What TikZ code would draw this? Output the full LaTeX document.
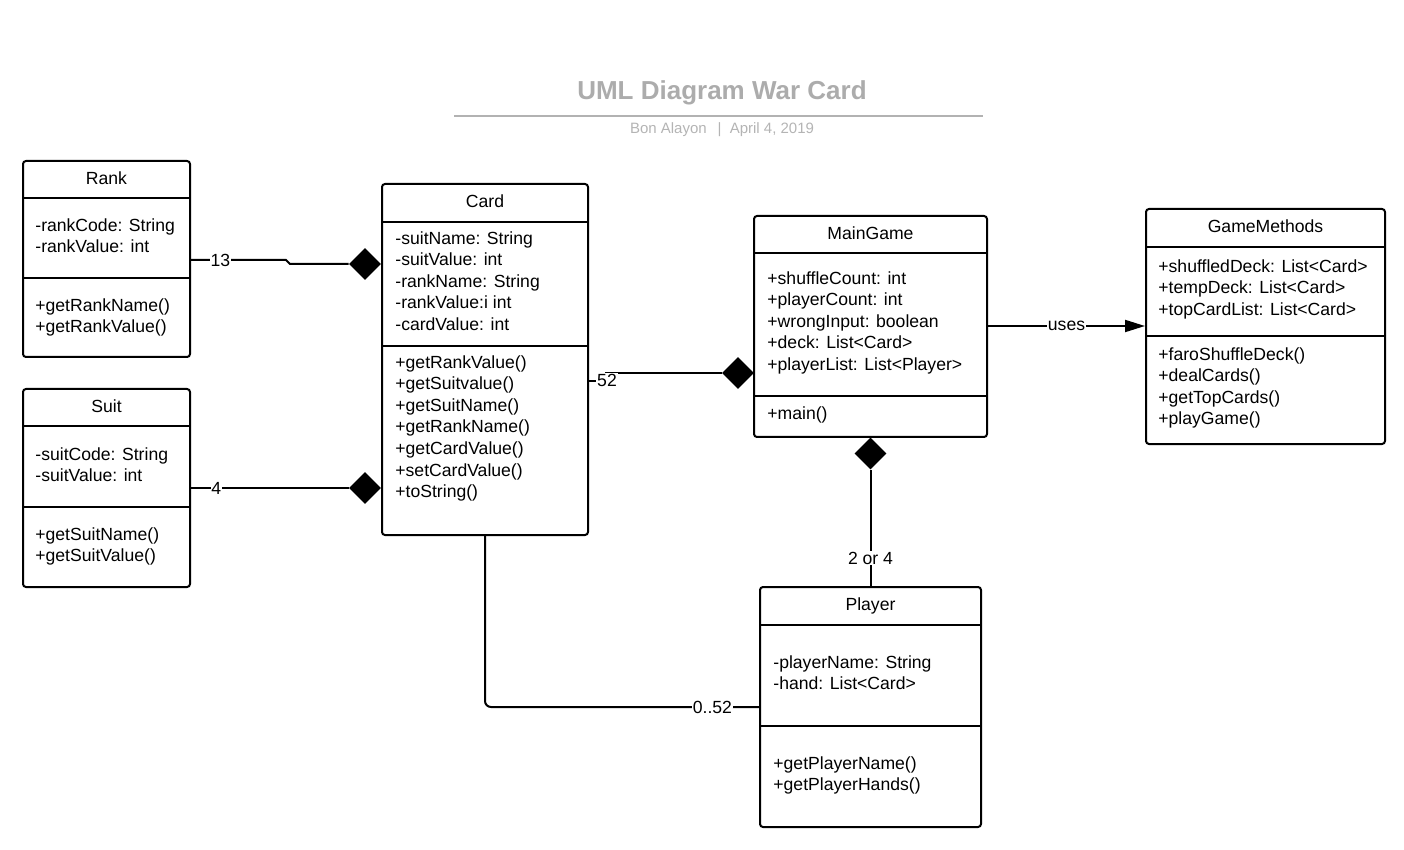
\documentclass[tikz,border=0pt]{standalone}
\usepackage{fontspec}
\setmainfont{Liberation Sans}
\usetikzlibrary{shapes.geometric,arrows.meta}
\definecolor{titlegray}{RGB}{172,172,172}
\definecolor{subgray}{RGB}{180,180,180}
\definecolor{rulegray}{RGB}{178,178,178}

\begin{document}
\begin{tikzpicture}[x=0.5pt,y=-0.5pt]
       \tikzstyle{frame} = [rectangle, draw, line width=1pt, rounded corners=1.5pt, inner sep=0pt];
       \tikzstyle{member} = [anchor=north west, align=left, inner sep=0pt, font=\fontsize{8.8}{10.8}\selectfont];
       \tikzstyle{classname} = [anchor=base, inner sep=0pt, font=\fontsize{8.8}{10.8}\selectfont];
       \tikzstyle{compose} = [diamond, fill=black, inner sep=0pt, minimum width=16pt, minimum height=16pt];
       \tikzstyle{link} = [line width=1pt];
       \tikzstyle{mult} = [fill=white, inner sep=0.4pt, font=\fontsize{8.8}{10.8}\selectfont];

       \useasboundingbox (0,0) rectangle (1404,850);

       % heading
       \node[anchor=base, text=titlegray, font=\bfseries\fontsize{13}{15}\selectfont] (title) at (722,100) {UML Diagram War Card};
       \draw[rulegray, line width=1pt] (454,116) -- (983,116);
       \node[anchor=base, text=subgray, font=\fontsize{7.5}{9}\selectfont] (byline) at (722,133.5) {Bon Alayon \ \,|\ \ April 4, 2019};

       % Rank
       \node[frame, minimum width=83.5pt, minimum height=98pt] (rank) at (106.5,259) {};
       \draw[line width=1pt] (rank.west |- 0,198) -- (rank.east |- 0,198);
       \draw[line width=1pt] (rank.west |- 0,278) -- (rank.east |- 0,278);
       \node[classname] (rankname) at (106.5,184.5) {Rank};
       \node[member] (rankattr) at (35,218) {-rankCode: String\\-rankValue: int};
       \node[member] (rankops) at (35,298) {+getRankName()\\+getRankValue()};

       % Suit
       \node[frame, minimum width=83.5pt, minimum height=99pt] (suit) at (106.5,488) {};
       \draw[line width=1pt] (suit.west |- 0,426) -- (suit.east |- 0,426);
       \draw[line width=1pt] (suit.west |- 0,507) -- (suit.east |- 0,507);
       \node[classname] (suitname) at (106.5,412.5) {Suit};
       \node[member] (suitattr) at (35,447) {-suitCode: String\\-suitValue: int};
       \node[member] (suitops) at (35,527) {+getSuitName()\\+getSuitValue()};

       % Card
       \node[frame, minimum width=103pt, minimum height=175.5pt] (card) at (485,359.5) {};
       \draw[line width=1pt] (card.west |- 0,222) -- (card.east |- 0,222);
       \draw[line width=1pt] (card.west |- 0,346) -- (card.east |- 0,346);
       \node[classname] (cardname) at (485,207.5) {Card};
       \node[member] (cardattr) at (395,231) {-suitName: String\\-suitValue: int\\-rankName: String\\-rankValue:i int\\-cardValue: int};
       \node[member] (cardops) at (395,355) {+getRankValue()\\+getSuitvalue()\\+getSuitName()\\+getRankName()\\+getCardValue()\\+setCardValue()\\+toString()};

       % MainGame
       \node[frame, minimum width=116.5pt, minimum height=110.5pt] (maingame) at (870.5,326.5) {};
       \draw[line width=1pt] (maingame.west |- 0,253) -- (maingame.east |- 0,253);
       \draw[line width=1pt] (maingame.west |- 0,396) -- (maingame.east |- 0,396);
       \node[classname] (maingamename) at (870.5,239.5) {MainGame};
       \node[member] (maingameattr) at (767,271) {+shuffleCount: int\\+playerCount: int\\+wrongInput: boolean\\+deck: List<Card>\\+playerList: List<Player>};
       \node[member] (maingameops) at (767,406) {+main()};

       % GameMethods
       \node[frame, minimum width=119.5pt, minimum height=117.5pt] (gamemethods) at (1265.5,326.5) {};
       \draw[line width=1pt] (gamemethods.west |- 0,247) -- (gamemethods.east |- 0,247);
       \draw[line width=1pt] (gamemethods.west |- 0,336) -- (gamemethods.east |- 0,336);
       \node[classname] (gamemethodsname) at (1265.5,232.5) {GameMethods};
       \node[member] (gamemethodsattr) at (1158,259) {+shuffledDeck: List<Card>\\+tempDeck: List<Card>\\+topCardList: List<Card>};
       \node[member] (gamemethodsops) at (1158,347) {+faroShuffleDeck()\\+dealCards()\\+getTopCards()\\+playGame()};

       % Player
       \node[frame, minimum width=110.5pt, minimum height=120pt] (player) at (870.5,707) {};
       \draw[line width=1pt] (player.west |- 0,625) -- (player.east |- 0,625);
       \draw[line width=1pt] (player.west |- 0,726) -- (player.east |- 0,726);
       \node[classname] (playername) at (870.5,610.5) {Player};
       \node[member] (playerattr) at (773,655) {-playerName: String\\-hand: List<Card>};
       \node[member] (playerops) at (773,756) {+getPlayerName()\\+getPlayerHands()};

       % composition diamonds
       \node[compose] (rankdia) at (365,264) {};
       \node[compose] (suitdia) at (365,488) {};
       \node[compose] (carddia) at (738,373) {};
       \node[compose] (playerdia) at (870.5,453.5) {};

       % links
       \draw[link] (rank.east |- 0,260) -- node[mult, pos=0.31] {13} (286,260) -- (290,264) -- (rankdia.west);
       \draw[link] (suit.east |- suitdia) -- node[mult, pos=0.16] {4} (suitdia.west);
       \draw[link] (card.east |- 0,381) -- (606,381) -- (606,373) -- (carddia.west);
       \node[mult] (cardmult) at (607,380) {52};
       \draw[link, -{Triangle[length=10pt,width=6pt]}] (maingame.east |- 0,326) -- node[mult] {uses} (gamemethods.west |- 0,326);
       \draw[link] (playerdia.south) -- node[mult, pos=0.76] {2 or 4} (player.north);
       \draw[link, rounded corners=3pt] (card.south) |- node[mult, pos=0.915] {0..52} (player.west);
\end{tikzpicture}
\end{document}
